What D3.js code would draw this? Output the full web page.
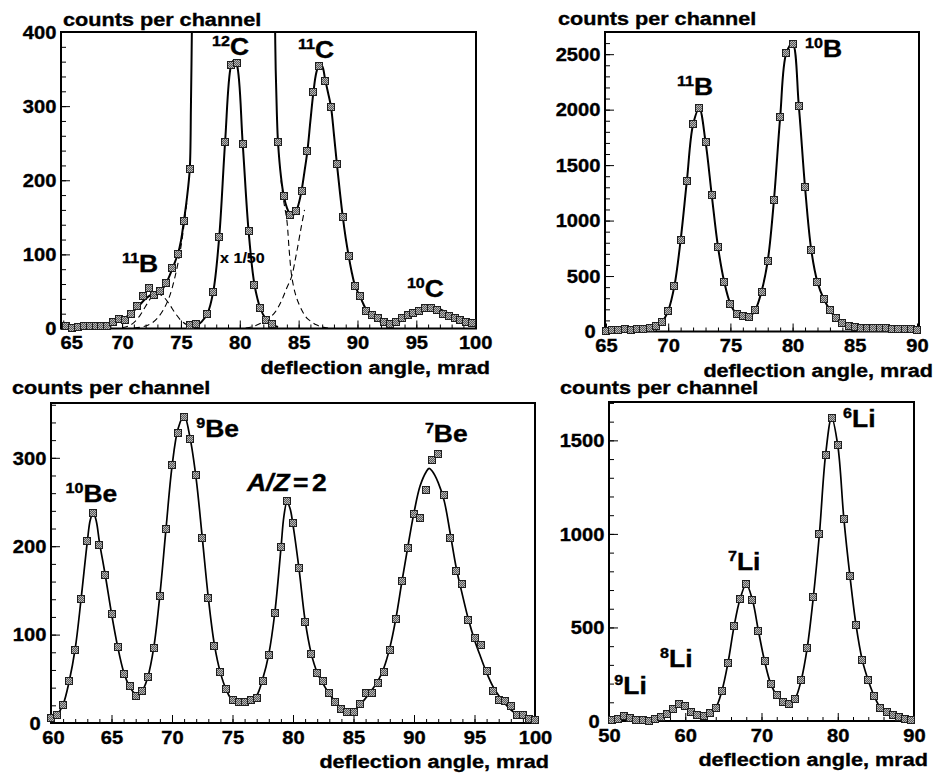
<!DOCTYPE html>
<html><head><meta charset="utf-8">
<script src="https://cdn.jsdelivr.net/npm/d3@7"></script>
<style>
html,body{margin:0;padding:0;background:#fff;}
svg{display:block;}
text{font-family:"Liberation Sans",Arial,Helvetica,sans-serif;font-weight:bold;fill:#000;stroke:#000;stroke-width:0.35px;}
.tick text{font-size:17.5px;}
.ttl{font-size:18.5px;}
</style></head><body>
<svg id="chart" width="941" height="776"></svg>
<script>
// ---------------- DATA ----------------
// Panel 1: carbon isotopes (top-left)
const carbonX = [65.25,65.75,66.25,66.75,67.25,67.75,68.25,68.75,69.25,69.75,70.25,70.75,71.25,71.75,72.25,72.75,73.25,73.75,74.25,74.75,75.25,75.75,
  83.25,83.75,84.25,84.75,85.25,85.75,86.25,86.75,87.25,87.75,88.25,88.75,89.25,89.75,90.25,90.75,91.25,91.75,92.25,92.75,93.25,93.75,94.25,94.75,95.25,95.75,96.25,96.75,97.25,97.75,98.25,98.75,99.25,99.75];
const carbonY = [3,1,2,4,4,4,4,4,9,13,12,20,31,44,54,45,50,62,81,100,145,215,
  251,179,153,158,185,240,319,354,334,299,222,151,98,58,44,24,18,14,9,6,9,14,18,21,24,27,28,25,20,17,14,11,9,7];
// 12C points scaled x 1/50
const c12ScaledX = [75.75,76.25,77.25,77.75,78.25,78.75,79.25,79.75,80.25,80.75,81.25,81.75,82.25,82.75];
const c12ScaledY = [4.7,6,20,49,123,251,356,358,249,131,59,27,11.5,6];
// fit curves
const fitCLeftX = [64.85,65.5,66.5,67.5,68.5,69.5,70,70.5,71,71.5,72,72.5,73,73.5,74,74.25,74.5,74.75,75,75.25,75.5,75.75,75.85,75.95];
const fitCLeftY = [1,2,3,4,6,10,13,17,24,32,40,46,50,55,70,80,90,101,118,145,175,215,300,430];
const fitCRightX = [82.98,83.05,83.15,83.25,83.5,83.75,84,84.25,84.5,84.75,85,85.25,85.5,85.75,86,86.25,86.5,86.75,87,87.25,87.5,87.75,88,88.25,88.5,88.75,89,89.25,89.5,89.75,90,90.25,90.5,90.75,91,91.5,92,92.5,93,93.5,94,94.5,95,95.5,96,96.5,97,97.5,98,98.5,99,99.5,100,100.3];
const fitCRightY = [430,350,290,251,205,178,163,155,153,157,168,186,212,240,280,318,345,356,354,336,318,299,262,222,185,151,122,98,77,60,50,42,33,25,19,13,9,7,7,9,13,17,21,25,27,28,26,22,18,14,11,9,7,6];
const fitCScaledX = [75.8,76.25,76.75,77.25,77.75,78.25,78.75,79.25,79.5,79.75,80.25,80.75,81.25,81.75,82.25,82.75,83.25];
const fitCScaledY = [1,3,9,20,50,123,251,354,362,356,249,131,59,27,12,5,2];
// dashed component curves
const comp11BX = [70,70.5,71,71.5,72,72.5,73,73.5,74,74.5,75,75.5,76,76.5];
const comp11BY = [1,3,8,17,30,42,47,43,33,21,11,5,2,0.5];
const comp12CLeftX = [71,71.5,72,72.5,73,73.5,74,74.5,75,75.5];
const comp12CLeftY = [0.5,1.5,3.5,7,14,25,42,70,110,170];
const comp12CRightX = [83.5,83.75,84,84.2,84.4,84.7,85,85.4,85.7,86.1,86.5,87,87.5];
const comp12CRightY = [200,170,146,105,72,48,34,21,14,9,5,2,0.5];
const comp11CLeftX = [80.5,81,81.5,82,82.5,83,83.5,84,84.4,84.8,85.2,85.5];
const comp11CLeftY = [0.5,2,5,9,14,22,36,55,70,100,135,160];

// Panel 2: boron isotopes (top-right)
const boronX = [65,65.5,66,66.5,67,67.5,68,68.5,69,69.5,70,70.5,71,71.5,72,72.5,73,73.5,74,74.5,75,75.5,76,76.5,77,77.5,78,78.5,79,79.5,80,80.5,81,81.5,82,82.5,83,83.5,84,84.5,85,85.5,86,86.5,87,87.5,88,88.5,89,89.5,90];
const boronY = [5,14,14,21,14,21,27,30,50,86,188,411,825,1357,1867,2011,1711,1230,765,450,249,159,141,129,195,360,636,1185,1930,2512,2596,2032,1300,735,444,294,195,120,81,51,39,36,30,30,30,30,24,24,21,21,15];

// Panel 3: beryllium isotopes (bottom-left)
const berylX = [60,60.5,61,61.5,62,62.5,63,63.5,64,64.5,65,65.5,66,66.5,67,67.5,68,68.5,69,69.5,70,70.5,71,71.5,72,72.5,73,73.5,74,74.5,75,75.5,76,76.5,77,77.5,78,78.5,79,79.5,80,80.5,81,81.5,82,82.5,83,83.5,84,84.5,85,85.5,86,86.5,87,87.5,88,88.5,89,89.5,90,90.5,91,91.5,92,92.5,93,93.5,94,94.5,95,95.5,96,96.5,97,97.5,98,98.5,99,99.5,100];
const berylY = [6,9,20,47,83,140,206,238,201,167,123,86,55,42,31,36,52,85,144,220,292,328,346,321,280,209,141,87,58,39,26,23.5,24,26,28,48,77,125,199,251,226,175,114,78,56,48,34,23.5,16,12,12,22,34,34,45,58,83,118,161,198,236,232,264,298,304,258,209,172,157,116,96,88,59,36,26,25,19,9.5,9.5,4.5,3];
const fitBeX = [60,60.5,61,61.5,62,62.5,63,63.25,63.5,63.75,64,64.5,65,65.5,66,66.5,67,67.5,68,68.5,69,69.5,70,70.5,71,71.5,72,72.5,73,73.5,74,74.5,75,75.5,76,76.5,77,77.5,78,78.5,79,79.25,79.5,79.75,80,80.5,81,81.5,82,82.5,83,83.5,84,84.5,85,85.5,86,86.5,87,87.5,88,88.5,89,89.5,90,90.5,91,91.25,91.5,92,92.5,93,93.5,94,94.5,95,95.5,96,96.5,97,97.5,98,98.5,99,99.5,100];
const fitBeY = [3,9,21,47,84,142,205,230,238,228,205,166,124,87,58,41,33,36,52,86,145,219,290,333,348,322,276,210,142,89,57,37,25,21,22,25,31,50,78,125,197,234,250,243,224,174,116,79,57,44,33,24,17,13,14,20,28,37,47,62,85,118,160,200,238,268,284,288,285,272,251,214,175,145,117,94,75,57,42,31,22,15,10,7,5,3];

// Panel 4: lithium isotopes (bottom-right)
const lithX = [50.4,51.2,52,52.8,53.6,54.4,55.2,56,56.8,57.6,58.4,59.2,60,60.8,61.6,62.4,63.2,64,64.8,65.6,66.4,67.2,68,68.8,69.6,70.4,71.2,72,72.8,73.6,74.4,75.2,76,76.8,77.6,78.4,79.2,80,80.8,81.6,82.4,83.2,84,84.8,85.6,86.4,87.2,88,88.8,89.6];
const lithY = [4,12,25,18,7,3,2,12,21,39,66,93,78,48,30,25,43,71,160,310,506,654,731,649,481,321,200,137,102,89,119,217,392,663,1002,1421,1622,1474,1082,774,512,328,217,132,71,48,30,21,12,7];

// tick labels
const xTicksC = [65,70,75,80,85,90,95,100];
const yTicksC = [0,100,200,300,400];
const xTicksB = [65,70,75,80,85,90];
const yTicksB = [0,500,1000,1500,2000,2500];
const xTicksBe = [60,65,70,75,80,85,90,95,100];
const yTicksBe = [0,100,200,300];
const xTicksLi = [50,60,70,80,90];
const yTicksLi = [0,500,1000,1500];

// isotope labels: [superscript, symbol, x (mrad), y (counts)]
const labelsC = [["12","C",77.64,369],["11","C",84.95,365],["11","B",70.0,76.6],["10","C",94.2,42.9]];
const labelsB = [["10","B",81.0,2475],["11","B",70.7,2132]];
const labelsBe = [["10","Be",61.2,250],["9","Be",72.0,324],["7","Be",90.9,318]];
const labelsLi = [["6","Li",80.7,1572],["7","Li",65.6,806],["8","Li",56.7,289],["9","Li",50.7,146]];

// ---------------- DRAWING ----------------
const svg = d3.select('#chart');
const SX = 1.15;
const defs = svg.append('defs');
const pat = defs.append('pattern').attr('id','dither').attr('width',2).attr('height',2).attr('patternUnits','userSpaceOnUse');
pat.append('rect').attr('width',2).attr('height',2).attr('fill','#585858');
pat.append('rect').attr('width',1).attr('height',1).attr('fill','#b8b8b8');
pat.append('rect').attr('x',1).attr('y',1).attr('width',1).attr('height',1).attr('fill','#b8b8b8');

const panels = [
  {id:'C', left:61, right:476, top:32, bottom:328.5, xDomain:[64.81,100.07], yDomain:[0,400],
   xTicks:xTicksC, yTicks:yTicksC, xMinor:1, yMinor:20, firstDx:8, zeroDx:0, lw:2,
   titleX:63, titleY:26,
   markers:[[carbonX,carbonY],[c12ScaledX,c12ScaledY]],
   lines:[[fitCLeftX,fitCLeftY,false],[fitCRightX,fitCRightY,false],[fitCScaledX,fitCScaledY,false],
          [comp11BX,comp11BY,true],[comp12CLeftX,comp12CLeftY,true],[comp12CRightX,comp12CRightY,true],[comp11CLeftX,comp11CLeftY,true]],
   labels:labelsC},
  {id:'B', left:605, right:919, top:32, bottom:331.5, xDomain:[64.92,90.16], yDomain:[0,2700],
   xTicks:xTicksB, yTicks:yTicksB, xMinor:1, yMinor:100, firstDx:0, zeroDx:4, lw:2,
   titleX:558, titleY:25,
   markers:[[boronX,boronY]], lines:[[boronX,boronY,false]], labels:labelsB},
  {id:'Be', left:51, right:535, top:403, bottom:723, xDomain:[60,100], yDomain:[0,362],
   xTicks:xTicksBe, yTicks:yTicksBe, xMinor:1, yMinor:20, firstDx:2, zeroDx:5, lw:1.7,
   titleX:12, titleY:394,
   markers:[[berylX,berylY]], lines:[[fitBeX,fitBeY,false]], labels:labelsBe},
  {id:'Li', left:609, right:914, top:402, bottom:721, xDomain:[50,90], yDomain:[0,1705],
   xTicks:xTicksLi, yTicks:yTicksLi, xMinor:2, yMinor:100, firstDx:0, zeroDx:4, lw:1.7,
   titleX:560, titleY:394,
   markers:[[lithX,lithY]], lines:[[lithX,lithY,false]], labels:labelsLi}
];

function isoLabel(g, px, py, sup, main) {
  const t = g.append('text').attr('transform', `translate(${px},${py}) scale(${SX},1)`);
  t.append('tspan').attr('font-size', 14).attr('dy', -9).text(sup);
  t.append('tspan').attr('font-size', 23).attr('dy', 9).text(main);
}

panels.forEach(p => {
  const g = svg.append('g');
  const x = d3.scaleLinear().domain(p.xDomain).range([p.left, p.right]);
  const y = d3.scaleLinear().domain(p.yDomain).range([p.bottom, p.top]);
  const clipId = 'clip' + p.id;
  defs.append('clipPath').attr('id', clipId).append('rect')
    .attr('x', p.left).attr('y', p.top).attr('width', p.right - p.left).attr('height', p.bottom - p.top);

  // minor ticks
  const xMin = d3.range(Math.ceil(p.xDomain[0] / p.xMinor) * p.xMinor, p.xDomain[1] + 1e-9, p.xMinor);
  const yMin = d3.range(0, p.yDomain[1] + 1e-9, p.yMinor);
  g.append('g').attr('transform', `translate(0,${p.bottom})`)
    .call(d3.axisBottom(x).tickValues(xMin).tickSize(-4).tickFormat(''))
    .call(a => a.select('.domain').remove());
  g.append('g').attr('transform', `translate(${p.left},0)`)
    .call(d3.axisLeft(y).tickValues(yMin).tickSize(-5).tickFormat(''))
    .call(a => a.select('.domain').remove());
  // major ticks + labels
  const xa = g.append('g').attr('transform', `translate(0,${p.bottom})`)
    .call(d3.axisBottom(x).tickValues(p.xTicks).tickSize(-8).tickFormat(d3.format('d')))
    .call(a => a.select('.domain').remove());
  xa.attr('font-family', null).attr('font-size', null);
  xa.selectAll('text').attr('y', 21).attr('dy', null)
    .attr('transform', (d, i) => `translate(${i === 0 ? p.firstDx : 0},0) scale(${SX},1)`);
  const ya = g.append('g').attr('transform', `translate(${p.left},0)`)
    .call(d3.axisLeft(y).tickValues(p.yTicks).tickSize(-9).tickFormat(d3.format('d')))
    .call(a => a.select('.domain').remove());
  ya.attr('font-family', null).attr('font-size', null);
  ya.selectAll('text').attr('x', d => -4 - (d === 0 ? p.zeroDx : 0)).attr('dy', '0.36em')
    .attr('transform', `scale(${SX},1)`);
  g.selectAll('.tick line').attr('stroke', '#000').attr('stroke-width', 1);

  // curves
  const cg = g.append('g').attr('clip-path', `url(#${clipId})`);
  p.lines.forEach(([xs, ys, dashed]) => {
    const line = d3.line().x(d => x(d[0])).y(d => y(d[1])).curve(d3.curveCatmullRom.alpha(0.5));
    cg.append('path').datum(d3.zip(xs, ys)).attr('d', line)
      .attr('fill', 'none').attr('stroke', '#000')
      .attr('stroke-width', dashed ? 1.1 : p.lw)
      .attr('stroke-dasharray', dashed ? '6,4' : null);
  });

  // frame
  g.append('rect').attr('x', p.left).attr('y', p.top).attr('width', p.right - p.left).attr('height', p.bottom - p.top)
    .attr('fill', 'none').attr('stroke', '#000').attr('stroke-width', 2);

  // markers
  p.markers.forEach(([xs, ys]) => {
    g.append('g').selectAll('rect').data(d3.zip(xs, ys)).join('rect')
      .attr('x', d => Math.round(x(d[0])) - 3.5).attr('y', d => Math.round(y(d[1])) - 3.5)
      .attr('width', 7).attr('height', 7)
      .attr('fill', 'url(#dither)').attr('stroke', '#1e1e1e').attr('stroke-width', 1);
  });

  // isotope labels
  p.labels.forEach(([sup, main, lx, ly]) => isoLabel(g, x(lx), y(ly), sup, main));

  // titles
  g.append('text').attr('class', 'ttl').attr('transform', `translate(${p.titleX},${p.titleY}) scale(1.17,1)`)
    .text('counts per channel');
  g.append('text').attr('class', 'ttl').attr('text-anchor', 'end')
    .attr('transform', `translate(${p.right + 14},${p.bottom + 45}) scale(1.17,1)`)
    .text('deflection angle, mrad');

  // extra annotations
  if (p.id === 'C') {
    g.append('text').attr('font-size', 14).style('stroke-width', '0.15px')
      .attr('transform', `translate(${x(78.32)},${y(88)}) scale(${SX},1)`).text('x 1/50');
  }
  if (p.id === 'Be') {
    const t = g.append('text').attr('font-size', 23)
      .attr('transform', `translate(${x(76.2)},${y(263)}) scale(${SX},1)`);
    t.append('tspan').attr('font-style', 'italic').text('A');
    t.append('tspan').attr('font-style', 'italic').text('/');
    t.append('tspan').attr('font-style', 'italic').text('Z');
    t.append('tspan').attr('dx', 3).text('=');
    t.append('tspan').attr('dx', 3).text('2');
  }
});
</script></body></html>
